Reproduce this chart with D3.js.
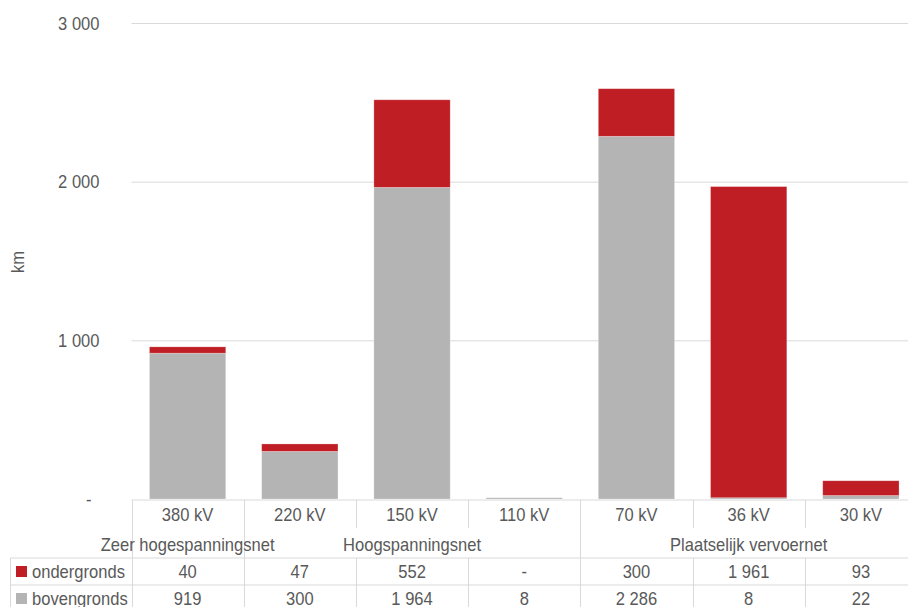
<!DOCTYPE html>
<html>
<head>
<meta charset="utf-8">
<script src="https://cdn.jsdelivr.net/npm/d3@7"></script>
<style>
  html, body { margin: 0; padding: 0; background: #fff; }
  svg text { font-family: "Liberation Sans", Arial, sans-serif; fill: #595959; font-size: 18px; }
</style>
</head>
<body>
<svg id="chart" width="908" height="607"></svg>
<script>
// Lengte van de netten per spanningsniveau (km)
const categories = ["380 kV", "220 kV", "150 kV", "110 kV", "70 kV", "36 kV", "30 kV"];
const ondergronds = [40, 47, 552, 0, 300, 1961, 93];
const bovengronds = [919, 300, 1964, 8, 2286, 8, 22];
const seriesNames = ["ondergronds", "bovengronds"];
const seriesColors = ["#BE1E24", "#B4B4B4"];
const groupLabels = ["Zeer hogespanningsnet", "Hoogspanningsnet", "Plaatselijk vervoernet"];
const groupFirst = [0, 1, 4];
const groupLast = [0, 3, 6];
const yTicks = [0, 1000, 2000, 3000];
const yLabel = "km";

const svg = d3.select("#chart");
const SX = 0.92; // horizontal condensing of the labels
const plotLeft = 131.5, plotRight = 917, plotTop = 23, plotBottom = 499;
const gridColor = "#D9D9D9";

const x = d3.scaleBand().domain(categories).range([plotLeft, plotRight])
  .paddingInner(0.32).paddingOuter(0.16);
const y = d3.scaleLinear().domain([0, 3000]).range([plotBottom, plotTop]);

const fmt = v => v === 0 ? "-" : d3.format(",")(v).replace(/,/g, " ");

function label(g, px, py, s, anchor) {
  return g.append("text")
    .attr("transform", `translate(${px},${py}) scale(${SX},1)`)
    .attr("text-anchor", anchor || "middle")
    .text(s);
}

// Gridlines
const grid = svg.append("g")
  .attr("transform", `translate(${plotLeft},0)`)
  .call(d3.axisLeft(y).tickValues(yTicks.filter(v => v > 0)).tickSize(-(908 - plotLeft)).tickFormat(""));
grid.select(".domain").remove();
grid.selectAll(".tick line").attr("stroke", gridColor).attr("stroke-width", 1);

// Y axis labels
const yAxis = svg.append("g")
  .attr("transform", `translate(${plotLeft},0)`)
  .call(d3.axisLeft(y).tickValues(yTicks).tickSize(0).tickFormat(fmt));
yAxis.select(".domain").remove();
yAxis.selectAll(".tick text")
  .attr("x", d => (d === 0 ? -40 : -32) / SX)
  .attr("dy", "0.35em")
  .attr("transform", `scale(${SX},1)`)
  .style("font-size", "18px")
  .style("font-family", '"Liberation Sans", Arial, sans-serif')
  .attr("fill", "#595959");

svg.append("text")
  .attr("transform", `translate(24,262) rotate(-90) scale(${SX},1)`)
  .attr("text-anchor", "middle")
  .text(yLabel);

// Stacked bars
const rows = categories.map((c, i) => ({ cat: c, ondergronds: ondergronds[i], bovengronds: bovengronds[i] }));
const stack = d3.stack().keys(["bovengronds", "ondergronds"])(rows);
const color = d3.scaleOrdinal().domain(seriesNames).range(seriesColors);

svg.append("g").selectAll("g").data(stack).join("g")
  .attr("fill", d => color(d.key))
  .selectAll("rect").data(d => d).join("rect")
  .attr("x", d => x(d.data.cat))
  .attr("width", x.bandwidth())
  .attr("y", d => y(d[1]))
  .attr("height", d => Math.max(0, y(d[0]) - y(d[1])))
  .attr("stroke", "#ffffff")
  .attr("stroke-opacity", 0.35)
  .attr("stroke-width", 0.75);

// Data table beneath the plot
const table = svg.append("g");
const step = x.step();
const bounds = d3.range(categories.length + 1).map(i => plotLeft + i * step);
const rowTop = 500, catBottom = 528, groupBottom = 558, row1Bottom = 585, row2Bottom = 612;
const legendLeft = 10.5;
const groupBounds = new Set([0, ...groupLast.map(i => i + 1)]);

const line = (x1, y1, x2, y2) => table.append("line")
  .attr("x1", x1).attr("y1", y1).attr("x2", x2).attr("y2", y2)
  .attr("stroke", gridColor).attr("stroke-width", 1);

line(plotLeft, rowTop, plotRight, rowTop);
line(legendLeft, groupBottom, plotRight, groupBottom);
line(legendLeft, row1Bottom, plotRight, row1Bottom);
line(legendLeft, groupBottom, legendLeft, row2Bottom);
bounds.forEach((bx, i) => {
  const xb = Math.round(bx) + 0.5;
  line(xb, rowTop, xb, groupBounds.has(i) ? groupBottom : catBottom);
  line(xb, groupBottom, xb, row2Bottom);
});

// Category labels
categories.forEach(c => label(table, x(c) + x.bandwidth() / 2, 521, c));

// Group labels
groupLabels.forEach((g, i) => {
  const cx = (bounds[groupFirst[i]] + bounds[groupLast[i] + 1]) / 2;
  label(table, cx, 551, g);
});

// Series rows with legend keys
const seriesValues = [ondergronds, bovengronds];
const rowBase = [578, 605];
seriesNames.forEach((name, si) => {
  table.append("rect")
    .attr("x", 16).attr("y", rowBase[si] - 12)
    .attr("width", 11).attr("height", 11)
    .attr("fill", color(name));
  label(table, 32, rowBase[si], name, "start");
  seriesValues[si].forEach((v, ci) => {
    label(table, x(categories[ci]) + x.bandwidth() / 2, rowBase[si], fmt(v));
  });
});
</script>
</body>
</html>
